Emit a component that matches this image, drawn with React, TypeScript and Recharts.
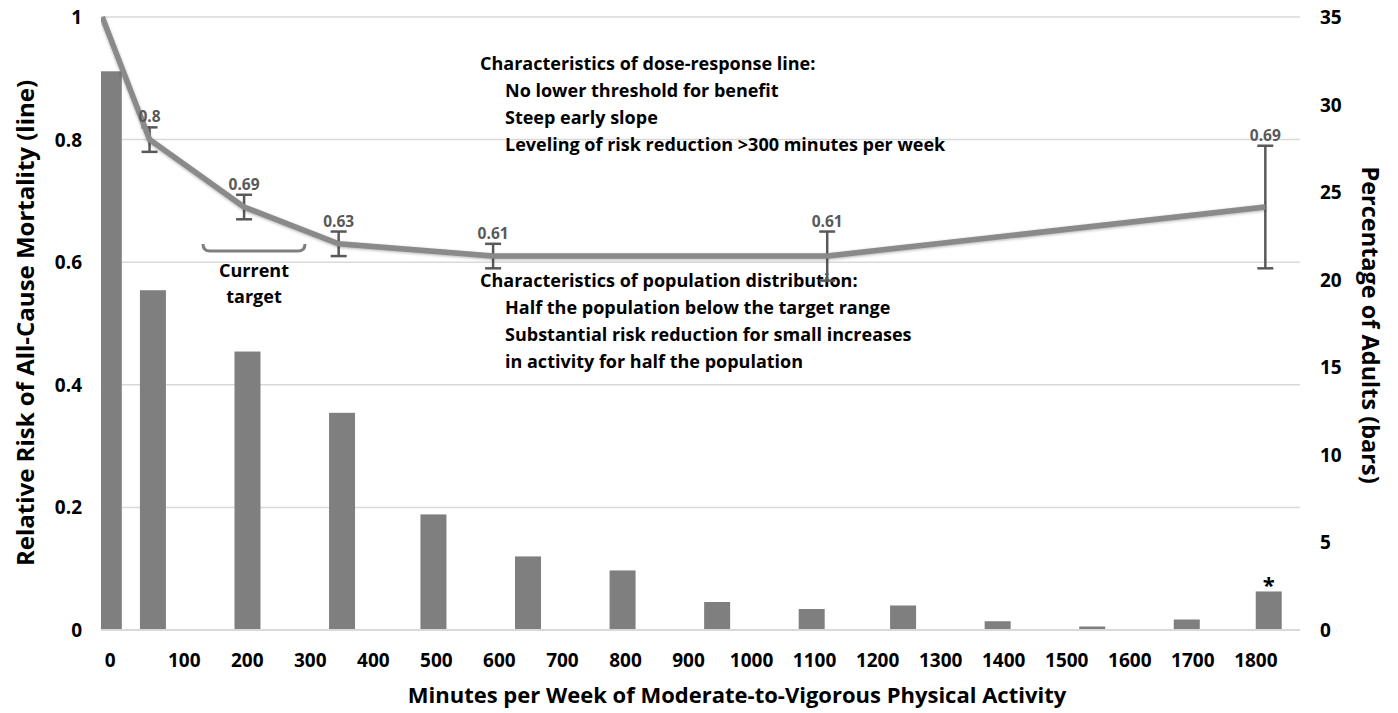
import React from "react";
import {
  ComposedChart,
  Bar,
  Line,
  XAxis,
  YAxis,
  CartesianGrid,
  ErrorBar,
  LabelList,
  Customized,
} from "recharts";

// bars: share of adults per activity group (right axis)
const barMinutes = [-20, 50, 200, 350, 495, 645, 795, 945, 1095, 1240, 1390, 1540, 1690, 1820];
const adultPct = [31.9, 19.4, 15.9, 12.4, 6.6, 4.2, 3.4, 1.6, 1.2, 1.4, 0.5, 0.2, 0.6, 2.2];
const barNotes = ["", "", "", "", "", "", "", "", "", "", "", "", "", "*"];

// line: relative risk of all-cause mortality (left axis)
const lineMinutes = [-30, 45, 195, 345, 590, 1120, 1815];
const relRisk = [1, 0.8, 0.69, 0.63, 0.61, 0.61, 0.69];
const riskCI = [null, 0.02, 0.02, 0.02, 0.02, 0.04, 0.1];
const riskLabels = ["", "0.8", "0.69", "0.63", "0.61", "0.61", "0.69"];

const xTicks = [0, 100, 200, 300, 400, 500, 600, 700, 800, 900, 1000, 1100, 1200, 1300, 1400, 1500, 1600, 1700, 1800];
const leftTicks = [0, 0.2, 0.4, 0.6, 0.8, 1];
const rightTicks = [0, 5, 10, 15, 20, 25, 30, 35];

const W = 1398;
const H = 713;
const TOP = 17;
const X_AXIS_H = 83;
const PLOT_H = H - TOP - X_AXIS_H;
const BAR_W = 26;
const FONT = "'Open Sans', Lato, sans-serif";

const barData = barMinutes.map((m, i) => ({ minutes: m, pct: adultPct[i], note: barNotes[i] }));
const lineData = lineMinutes.map((m, i) => ({
  minutes: m,
  rr: relRisk[i],
  ci: riskCI[i] == null ? undefined : [riskCI[i], riskCI[i]],
  label: riskLabels[i],
}));

function XTick({ x, y, payload }: any) {
  // the "0" group label sits a little left of the true zero
  const shift = payload.value === 0 ? -11 : 0;
  return (
    <text x={x + shift} y={y + 37} textAnchor="middle" fontFamily={FONT} fontWeight={700} fontSize={19} fill="#000">
      {payload.value}
    </text>
  );
}

function LeftTick({ x, y, payload }: any) {
  return (
    <text x={x - 19} y={y + 7} textAnchor="end" fontFamily={FONT} fontWeight={700} fontSize={19} fill="#000">
      {String(payload.value)}
    </text>
  );
}

function RightTick({ x, y, payload }: any) {
  return (
    <text x={x + 20} y={y + 7} textAnchor="start" fontFamily={FONT} fontWeight={700} fontSize={19} fill="#000">
      {payload.value}
    </text>
  );
}

// numeric x axis gives a hairline band, so draw a fixed-width column round the bar centre
function BarShape({ x, y, width, height, fill }: any) {
  if (height == null || height <= 0) return null;
  const cx = x + width / 2;
  return <rect x={cx - BAR_W / 2} y={y} width={BAR_W} height={height} fill={fill} />;
}

function RiskLabel({ x, y, value, index }: any) {
  if (!value) return null;
  const top = y - (riskCI[index] ?? 0) * PLOT_H;
  return (
    <text x={x} y={top - 5} textAnchor="middle" fontFamily={FONT} fontWeight={700} fontSize={15.5} fill="#595959">
      {value}
    </text>
  );
}

function NoteLabel({ x, y, width, value }: any) {
  if (!value) return null;
  return (
    <text x={x + width / 2} y={y + 2} textAnchor="middle" fontFamily={FONT} fontWeight={700} fontSize={22} fill="#000">
      {value}
    </text>
  );
}

function Annotations() {
  return (
    <g fontFamily={FONT} fontWeight={700} fontSize={18} fill="#000">
      <text x={480} y={70}>Characteristics of dose-response line:</text>
      <text x={505} y={97}>No lower threshold for benefit</text>
      <text x={505} y={124}>Steep early slope</text>
      <text x={505} y={151}>Leveling of risk reduction &gt;300 minutes per week</text>

      <text x={480} y={287}>Characteristics of population distribution:</text>
      <text x={505} y={314}>Half the population below the target range</text>
      <text x={505} y={341}>Substantial risk reduction for small increases</text>
      <text x={505} y={368}>in activity for half the population</text>

      <path d="M203,244 Q203,251 210,251 L298,251 Q305,251 305,244" stroke="#7f7f7f" strokeWidth={3} fill="none" />
      <text x={254} y={277} textAnchor="middle">Current</text>
      <text x={254} y={303} textAnchor="middle">target</text>

      <text x={737} y={703} textAnchor="middle" fontSize={22}>
        Minutes per Week of Moderate-to-Vigorous Physical Activity
      </text>
      <text x={0} y={0} textAnchor="middle" dominantBaseline="central" fontSize={24} transform="translate(24,323) rotate(-90)">
        Relative Risk of All-Cause Mortality (line)
      </text>
      <text x={0} y={0} textAnchor="middle" dominantBaseline="central" fontSize={23.5} transform="translate(1371,325) rotate(90)">
        Percentage of Adults (bars)
      </text>
    </g>
  );
}

export default function App() {
  return (
    <div style={{ position: "absolute", left: 0, top: 0, background: "#fff" }}>
      <ComposedChart width={W} height={H} data={barData} margin={{ top: TOP, right: 0, bottom: 0, left: 0 }}>
        <CartesianGrid yAxisId="left" vertical={false} stroke="#d9d9d9" strokeWidth={1.5} />
        <XAxis
          dataKey="minutes"
          type="number"
          domain={[-32, 1870]}
          allowDataOverflow
          ticks={xTicks}
          interval={0}
          height={X_AXIS_H}
          tickLine={false}
          tickSize={0}
          tickMargin={0}
          axisLine={{ stroke: "#d9d9d9", strokeWidth: 2 }}
          tick={<XTick />}
        />
        <YAxis
          yAxisId="left"
          orientation="left"
          domain={[0, 1]}
          ticks={leftTicks}
          interval={0}
          width={101}
          axisLine={false}
          tickLine={false}
          tickSize={0}
          tickMargin={0}
          tick={<LeftTick />}
        />
        <YAxis
          yAxisId="right"
          orientation="right"
          domain={[0, 35]}
          ticks={rightTicks}
          interval={0}
          width={98}
          axisLine={false}
          tickLine={false}
          tickSize={0}
          tickMargin={0}
          tick={<RightTick />}
        />
        <Bar yAxisId="right" dataKey="pct" fill="#7f7f7f" shape={<BarShape />} isAnimationActive={false}>
          <LabelList dataKey="note" content={<NoteLabel />} />
        </Bar>
        <Line
          yAxisId="left"
          data={lineData}
          dataKey="rr"
          type="linear"
          stroke="#8a8a8a"
          strokeWidth={5.5}
          dot={false}
          activeDot={false}
          isAnimationActive={false}
          style={{ filter: "drop-shadow(0px 1px 1.5px rgba(0,0,0,0.3))" }}
        >
          <ErrorBar dataKey="ci" direction="y" width={8} stroke="#595959" strokeWidth={2.5} />
          <LabelList dataKey="label" content={<RiskLabel />} />
        </Line>
        <Customized component={<Annotations />} />
      </ComposedChart>
    </div>
  );
}
